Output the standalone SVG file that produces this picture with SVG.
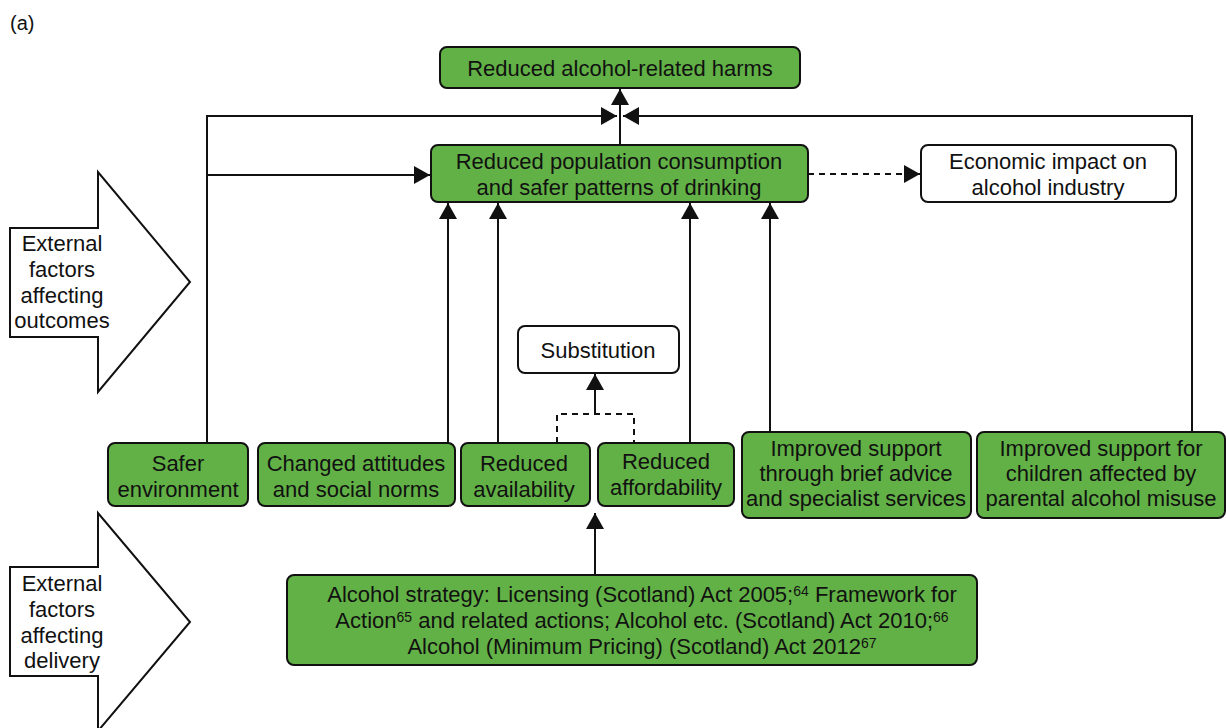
<svg xmlns="http://www.w3.org/2000/svg" width="1226" height="728" viewBox="0 0 1226 728">
<style>
text{font-family:"Liberation Sans",Arial,sans-serif;font-size:22px;fill:#111;text-anchor:middle}
.g{fill:#62b146;stroke:#111;stroke-width:2}
.w{fill:#fff;stroke:#111;stroke-width:2}
.ln{fill:none;stroke:#111;stroke-width:2}
.d{fill:none;stroke:#111;stroke-width:2;stroke-dasharray:6 5}
.sup{font-size:14px}
</style>
<defs>
<marker id="a" viewBox="0 0 16 18" refX="16" refY="9" markerWidth="16" markerHeight="18" markerUnits="userSpaceOnUse" orient="auto">
<path d="M0,0 L16,9 L0,18 z" fill="#111"/>
</marker>
</defs>
<rect width="1226" height="728" fill="#fff"/>
<text x="10" y="30" style="text-anchor:start;font-size:20px">(a)</text>

<g id="connectors">
<path class="ln" d="M207,443 V116 H617" marker-end="url(#a)"/>
<path class="ln" d="M1192,432 V116 H623" marker-end="url(#a)"/>
<path class="ln" d="M620,145 V89" marker-end="url(#a)"/>
<path class="ln" d="M207,175 H430" marker-end="url(#a)"/>
<path class="d" d="M808,174 H920" marker-end="url(#a)"/>
<path class="ln" d="M448,443 V203" marker-end="url(#a)"/>
<path class="ln" d="M498,443 V203" marker-end="url(#a)"/>
<path class="ln" d="M690,443 V203" marker-end="url(#a)"/>
<path class="ln" d="M770,432 V203" marker-end="url(#a)"/>
<path class="d" d="M557,443 V414 H634 V443"/>
<path class="ln" d="M595,414 V374" marker-end="url(#a)"/>
<path class="ln" d="M595,575 V513" marker-end="url(#a)"/>
</g>

<g id="ext-outcomes">
<path class="w" d="M10,228 H98 V172 L190,282 L98,392 V337 H10 Z"/>
<text x="62" y="251">External</text>
<text x="62" y="277">factors</text>
<text x="62" y="303">affecting</text>
<text x="62" y="328">outcomes</text>
</g>

<g id="ext-delivery">
<path class="w" d="M10,567 H98 V513 L190,622 L98,731 V676 H10 Z"/>
<text x="62" y="591">External</text>
<text x="62" y="617">factors</text>
<text x="62" y="643">affecting</text>
<text x="62" y="668">delivery</text>
</g>

<g id="harms">
<rect class="g" x="440" y="47" width="360" height="41" rx="7"/>
<text x="620" y="76">Reduced alcohol-related harms</text>
</g>

<g id="consumption">
<rect class="g" x="431" y="145" width="377" height="57" rx="7"/>
<text x="619" y="169">Reduced population consumption</text>
<text x="619" y="195">and safer patterns of drinking</text>
</g>

<g id="economic">
<rect class="w" x="921" y="145" width="255" height="57" rx="7"/>
<text x="1048" y="169">Economic impact on</text>
<text x="1048" y="195">alcohol industry</text>
</g>

<g id="substitution">
<rect class="w" x="518" y="326" width="161" height="47" rx="7"/>
<text x="598" y="358">Substitution</text>
</g>

<g id="safer">
<rect class="g" x="108" y="443" width="140" height="63" rx="7"/>
<text x="178" y="471">Safer</text>
<text x="178" y="497">environment</text>
</g>

<g id="attitudes">
<rect class="g" x="258" y="443" width="197" height="63" rx="7"/>
<text x="356" y="471">Changed attitudes</text>
<text x="356" y="497">and social norms</text>
</g>

<g id="availability">
<rect class="g" x="461" y="443" width="129" height="63" rx="7"/>
<text x="524" y="471">Reduced</text>
<text x="524" y="497">availability</text>
</g>

<g id="affordability">
<rect class="g" x="598" y="443" width="136" height="63" rx="7"/>
<text x="666" y="469">Reduced</text>
<text x="666" y="495">affordability</text>
</g>

<g id="support">
<rect class="g" x="742" y="432" width="229" height="86" rx="7"/>
<text x="856" y="456">Improved support</text>
<text x="856" y="481">through brief advice</text>
<text x="856" y="506">and specialist services</text>
</g>

<g id="children">
<rect class="g" x="977" y="432" width="248" height="86" rx="7"/>
<text x="1101" y="456">Improved support for</text>
<text x="1101" y="481">children affected by</text>
<text x="1101" y="506">parental alcohol misuse</text>
</g>

<g id="strategy">
<rect class="g" x="287" y="575" width="690" height="90" rx="7"/>
<text x="642" y="602">Alcohol strategy: Licensing (Scotland) Act 2005;<tspan class="sup" dy="-6">64</tspan><tspan dy="6"> Framework for</tspan></text>
<text x="642" y="628">Action<tspan class="sup" dy="-6">65</tspan><tspan dy="6"> and related actions; Alcohol etc. (Scotland) Act 2010;</tspan><tspan class="sup" dy="-6">66</tspan></text>
<text x="642" y="654">Alcohol (Minimum Pricing) (Scotland) Act 2012<tspan class="sup" dy="-6">67</tspan></text>
</g>
</svg>
